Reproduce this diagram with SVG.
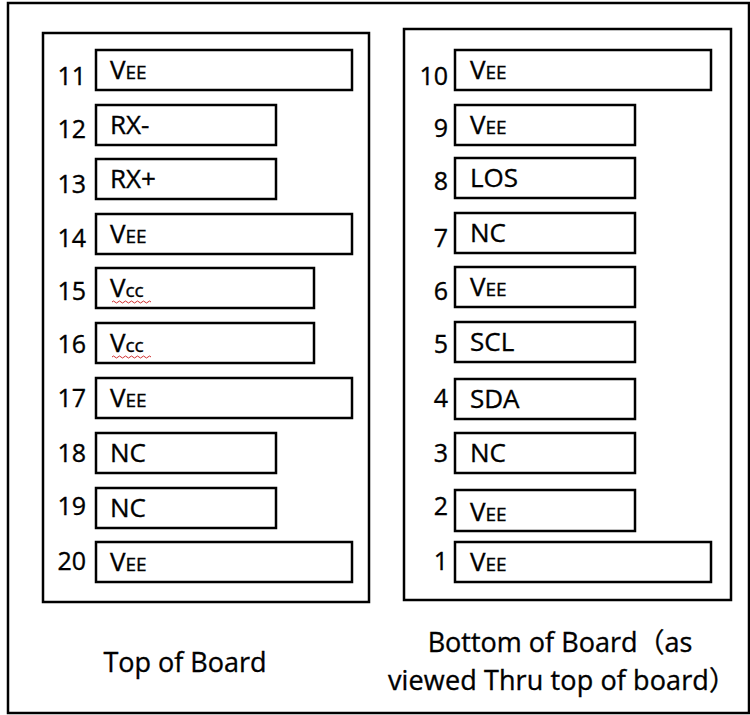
<svg xmlns="http://www.w3.org/2000/svg" width="750" height="715" viewBox="0 0 750 715">
<style>
.frame{fill:#fff;stroke:#000;stroke-width:2.5}
.pin{fill:#fff;stroke:#000;stroke-width:2.5}
text{font-family:"Open Sans","Noto Sans CJK SC",sans-serif;fill:#000;stroke:#000;stroke-width:0.35}
.num{font-size:25px;text-anchor:end}
.lbl{font-size:26px}
.sm{font-size:19px}
.cap{font-size:27px;text-anchor:middle}
.sq{fill:none;stroke:#d03030;stroke-width:1}
</style>
<rect width="750" height="715" fill="#fff"/>
<rect id="outer" class="frame" x="8" y="3" width="741" height="710"/>
<g id="top-board">
<rect class="frame" x="43" y="33" width="326" height="569"/>
<g id="pin11"><rect class="pin" x="96" y="50" width="256" height="40"/><text class="num" x="86" y="85">11</text><text class="lbl" x="110" y="79">V<tspan class="sm">EE</tspan></text></g>
<g id="pin12"><rect class="pin" x="96" y="105" width="180" height="40"/><text class="num" x="86" y="138">12</text><text class="lbl" x="110" y="134">RX-</text></g>
<g id="pin13"><rect class="pin" x="96" y="159" width="180" height="40"/><text class="num" x="86" y="193">13</text><text class="lbl" x="110" y="188">RX+</text></g>
<g id="pin14"><rect class="pin" x="96" y="214" width="256" height="40"/><text class="num" x="86" y="247">14</text><text class="lbl" x="110" y="243">V<tspan class="sm">EE</tspan></text></g>
<g id="pin15"><rect class="pin" x="96" y="268" width="218" height="40"/><text class="num" x="86" y="300">15</text><text class="lbl" x="110" y="297">V<tspan class="sm">cc</tspan></text><path class="sq" d="M112 302 q1.5 -2 3 0 t3 0 t3 0 t3 0 t3 0 t3 0 t3 0 t3 0 t3 0 t3 0 t3 0 t3 0 t3 0"/></g>
<g id="pin16"><rect class="pin" x="96" y="323" width="218" height="40"/><text class="num" x="86" y="353">16</text><text class="lbl" x="110" y="352">V<tspan class="sm">cc</tspan></text><path class="sq" d="M112 357 q1.5 -2 3 0 t3 0 t3 0 t3 0 t3 0 t3 0 t3 0 t3 0 t3 0 t3 0 t3 0 t3 0 t3 0"/></g>
<g id="pin17"><rect class="pin" x="96" y="378" width="256" height="40"/><text class="num" x="86" y="407">17</text><text class="lbl" x="110" y="407">V<tspan class="sm">EE</tspan></text></g>
<g id="pin18"><rect class="pin" x="96" y="433" width="180" height="40"/><text class="num" x="86" y="462">18</text><text class="lbl" x="110" y="462">NC</text></g>
<g id="pin19"><rect class="pin" x="96" y="488" width="180" height="40"/><text class="num" x="86" y="515">19</text><text class="lbl" x="110" y="517">NC</text></g>
<g id="pin20"><rect class="pin" x="96" y="542" width="256" height="40"/><text class="num" x="86" y="570">20</text><text class="lbl" x="110" y="571">V<tspan class="sm">EE</tspan></text></g>
<text class="cap" x="185" y="672">Top of Board</text>
</g>
<g id="bottom-board">
<rect class="frame" x="404" y="29" width="327" height="571"/>
<g id="pin10"><rect class="pin" x="455" y="50" width="256" height="40"/><text class="num" x="448" y="85">10</text><text class="lbl" x="470" y="79">V<tspan class="sm">EE</tspan></text></g>
<g id="pin9"><rect class="pin" x="455" y="105" width="180" height="40"/><text class="num" x="448" y="137">9</text><text class="lbl" x="470" y="134">V<tspan class="sm">EE</tspan></text></g>
<g id="pin8"><rect class="pin" x="455" y="158" width="180" height="40"/><text class="num" x="448" y="190">8</text><text class="lbl" x="470" y="187">LOS</text></g>
<g id="pin7"><rect class="pin" x="455" y="213" width="180" height="40"/><text class="num" x="448" y="247">7</text><text class="lbl" x="470" y="242">NC</text></g>
<g id="pin6"><rect class="pin" x="455" y="267" width="180" height="40"/><text class="num" x="448" y="300">6</text><text class="lbl" x="470" y="296">V<tspan class="sm">EE</tspan></text></g>
<g id="pin5"><rect class="pin" x="455" y="322" width="180" height="40"/><text class="num" x="448" y="353">5</text><text class="lbl" x="470" y="351">SCL</text></g>
<g id="pin4"><rect class="pin" x="455" y="379" width="180" height="40"/><text class="num" x="448" y="407">4</text><text class="lbl" x="470" y="408">SDA</text></g>
<g id="pin3"><rect class="pin" x="455" y="433" width="180" height="40"/><text class="num" x="448" y="462">3</text><text class="lbl" x="470" y="462">NC</text></g>
<g id="pin2"><rect class="pin" x="455" y="490" width="180" height="41"/><text class="num" x="448" y="515">2</text><text class="lbl" x="470" y="521">V<tspan class="sm">EE</tspan></text></g>
<g id="pin1"><rect class="pin" x="455" y="542" width="256" height="40"/><text class="num" x="448" y="570">1</text><text class="lbl" x="470" y="571">V<tspan class="sm">EE</tspan></text></g>
<text class="cap" x="560" y="652">Bottom of Board（as</text>
<text class="cap" x="562" y="690" textLength="348" lengthAdjust="spacing">viewed Thru top of board）</text>
</g>
</svg>
